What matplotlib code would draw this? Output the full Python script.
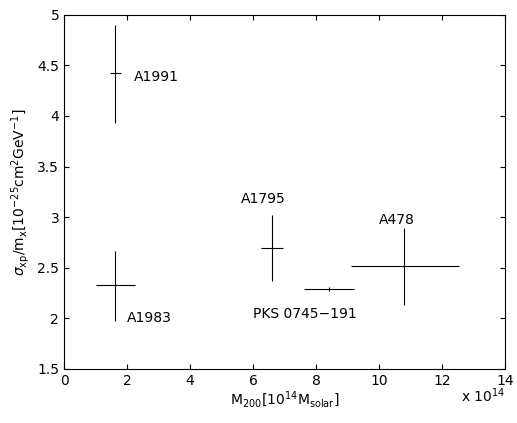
import matplotlib
matplotlib.use("Agg")
import matplotlib.pyplot as plt

names = ["A1991", "A1983", "A1795", "PKS 0745\u2212191", "A478"]
mass = [1.62, 1.62, 6.6, 8.4, 10.8]
mass_lo = [1.45, 1.0, 6.25, 7.6, 9.1]
mass_hi = [1.8, 2.25, 6.95, 9.2, 12.55]
sigma = [4.42, 2.33, 2.69, 2.29, 2.52]
sigma_lo = [3.93, 1.97, 2.37, 2.27, 2.13]
sigma_hi = [4.90, 2.67, 3.02, 2.31, 2.89]
label_pos = [(2.2, 4.39), (2.0, 2.0), (5.6, 3.18), (6.0, 2.04), (10.0, 2.97)]

fig, ax = plt.subplots(figsize=(5.17, 4.23), dpi=100)
fig.subplots_adjust(left=0.124, right=0.977, bottom=0.128, top=0.965)
xerr = [[m - l for m, l in zip(mass, mass_lo)], [h - m for m, h in zip(mass, mass_hi)]]
yerr = [[s - l for s, l in zip(sigma, sigma_lo)], [h - s for s, h in zip(sigma, sigma_hi)]]
ax.errorbar(mass, sigma, xerr=xerr, yerr=yerr, fmt="none", ecolor="black", elinewidth=0.8)
for n, (lx, ly) in zip(names, label_pos):
    ax.text(lx, ly, n, fontsize=10, va="center")

ax.set_xlim(0, 14)
ax.set_ylim(1.5, 5)
ax.set_xticks(range(0, 15, 2))
ax.set_yticks([1.5, 2, 2.5, 3, 3.5, 4, 4.5, 5])
ax.set_yticklabels(["1.5", "2", "2.5", "3", "3.5", "4", "4.5", "5"])
ax.tick_params(direction="in", top=True, right=True, labelsize=10)
ax.set_xlabel(r"M$_{200}$[10$^{14}$M$_{\rm solar}$]", fontsize=10, labelpad=1)
ax.set_ylabel(r"$\sigma_{\rm xp}$/m$_{\rm x}$[10$^{-25}$cm$^2$GeV$^{-1}$]", fontsize=10)
ax.text(1.0, -0.075, r"x 10$^{14}$", transform=ax.transAxes, ha="right", va="center", fontsize=10)
fig.savefig("out.png")
